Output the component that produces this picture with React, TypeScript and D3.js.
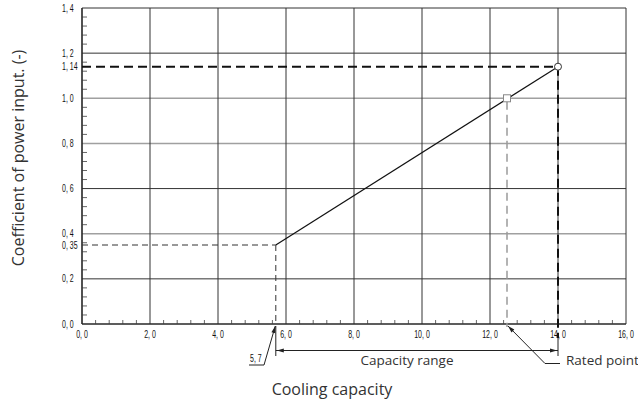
import React from "react";
import * as d3 from "d3";

const xTicks = [0, 2, 4, 6, 8, 10, 12, 14, 16];
const xTickLabels = ["0, 0", "2, 0", "4, 0", "6, 0", "8, 0", "10, 0", "12, 0", "14, 0", "16, 0"];
const yTicks = [0, 0.2, 0.4, 0.6, 0.8, 1.0, 1.2, 1.4];
const yTickLabels = ["0, 0", "0, 2", "0, 4", "0, 6", "0, 8", "1, 0", "1, 2", "1, 4"];
const greyRows = [0.4, 0.8, 1.0];
const extraYTicks = [0.35, 1.14];
const extraYLabels = ["0, 35", "1, 14"];
const lineX = [5.7, 14];
const lineY = [0.35, 1.14];
const ratedX = 12.5;
const ratedY = 1.0;
const minLabel = "5, 7";

const W = 638;
const H = 403;

export default function App() {
  const x = d3.scaleLinear().domain([0, 16]).range([82, 626]);
  const y = d3.scaleLinear().domain([0, 1.4]).range([324, 8]);
  const tickFont = "'Liberation Sans', Arial, sans-serif";
  const labelFont = "'Open Sans', 'Noto Sans', sans-serif";

  const yMinor = d3.range(0, 1.4001, 0.04).filter((v) => Math.abs(v / 0.2 - Math.round(v / 0.2)) > 1e-6);
  const xMinor = d3.range(0, 16.001, 0.4).filter((v) => Math.abs(v / 2 - Math.round(v / 2)) > 1e-6);

  const line = d3.line<number>().x((_, i) => x(lineX[i])).y((d) => y(d));

  const x0 = x(lineX[0]);
  const y0 = y(lineY[0]);
  const x1 = x(lineX[1]);
  const y1 = y(lineY[1]);
  const xr = x(ratedX);
  const yr = y(ratedY);
  const axisY = y(0);
  const rangeY = 350.5;

  const arrow = (tx: number, ty: number, fx: number, fy: number, len = 7, half = 2) => {
    const dx = tx - fx;
    const dy = ty - fy;
    const l = Math.hypot(dx, dy);
    const ux = dx / l;
    const uy = dy / l;
    const bx = tx - ux * len;
    const by = ty - uy * len;
    const px = -uy * half;
    const py = ux * half;
    return `M${tx},${ty}L${bx + px},${by + py}L${bx - px},${by - py}Z`;
  };

  const scaledText = (tx: number, ty: number, s: string, anchor: "start" | "middle" | "end", key?: string) => (
    <text
      key={key}
      transform={`translate(${tx},${ty}) scale(0.7,1)`}
      fontFamily={tickFont}
      fontSize={10}
      textAnchor={anchor}
      fill="#111"
    >
      {s}
    </text>
  );

  return (
    <svg width={W} height={H} style={{ position: "absolute", left: 0, top: 0, background: "#fff" }}>
      {/* horizontal grid */}
      {yTicks.map((v) => (
        <line
          key={"h" + v}
          x1={x(0)}
          x2={x(16)}
          y1={y(v)}
          y2={y(v)}
          stroke={greyRows.some((g) => Math.abs(g - v) < 1e-6) ? "#a0a0a0" : "#333"}
          strokeWidth={greyRows.some((g) => Math.abs(g - v) < 1e-6) ? 1.6 : 1}
        />
      ))}
      {/* vertical grid */}
      {xTicks.map((v) => (
        <line key={"v" + v} x1={x(v)} x2={x(v)} y1={y(1.4)} y2={y(0)} stroke="#333" strokeWidth={1} />
      ))}
      {/* minor ticks */}
      {yMinor.map((v) => (
        <line key={"ym" + v} x1={x(0)} x2={x(0) + 5} y1={y(v)} y2={y(v)} stroke="#666" strokeWidth={1} />
      ))}
      {xMinor.map((v) => (
        <line key={"xm" + v} x1={x(v)} x2={x(v)} y1={axisY} y2={axisY - 4} stroke="#666" strokeWidth={1} />
      ))}
      {/* axes */}
      <line x1={x(0)} x2={x(0)} y1={y(1.4)} y2={axisY} stroke="#222" strokeWidth={1.2} />
      <line x1={x(0)} x2={x(16)} y1={axisY} y2={axisY} stroke="#222" strokeWidth={1.2} />

      {/* tick labels */}
      {yTicks.map((v, i) => scaledText(62, y(v) + 3.5, yTickLabels[i], "start", "yl" + v))}
      {extraYTicks.map((v, i) => scaledText(62, y(v) + 3.5, extraYLabels[i], "start", "ye" + v))}
      {xTicks.map((v, i) => scaledText(x(v), 338, xTickLabels[i], "middle", "xl" + v))}

      {/* thin dashed at min point */}
      <line x1={x(0)} x2={x0} y1={y0} y2={y0} stroke="#333" strokeWidth={1} strokeDasharray="6,4" />
      <line x1={x0} x2={x0} y1={y0} y2={axisY} stroke="#333" strokeWidth={1} strokeDasharray="6,4" />

      {/* grey dashed at rated point */}
      <line x1={xr} x2={xr} y1={yr + 3.5} y2={axisY + 3} stroke="#9a9a9a" strokeWidth={1.5} strokeDasharray="8,5" />

      {/* thick dashed at max point */}
      <line x1={x(0)} x2={x1} y1={y1} y2={y1} stroke="#111" strokeWidth={2} strokeDasharray="9,5" />
      <line x1={x1} x2={x1} y1={y1} y2={338} stroke="#111" strokeWidth={2} strokeDasharray="9,5" />

      {/* data line */}
      <path d={line(lineY) || ""} fill="none" stroke="#111" strokeWidth={1.2} />
      <rect x={xr - 3.5} y={yr - 3.5} width={7} height={7} fill="#fff" stroke="#888" strokeWidth={1} />
      <circle cx={x1} cy={y1} r={3.5} fill="#fff" stroke="#333" strokeWidth={1} />

      {/* capacity range dimension */}
      <line x1={x0} x2={x0} y1={axisY + 2} y2={356} stroke="#222" strokeWidth={1} />
      <line x1={x1} x2={x1} y1={338} y2={356} stroke="#222" strokeWidth={1} />
      <line x1={x0} x2={x1} y1={rangeY} y2={rangeY} stroke="#222" strokeWidth={1} />
      <path d={arrow(x0 + 1, rangeY, x0 + 20, rangeY)} fill="#222" />
      <path d={arrow(x1 - 1, rangeY, x1 - 20, rangeY)} fill="#222" />
      <text x={407} y={364.5} fontFamily={labelFont} fontSize={13.5} textAnchor="middle" fill="#333">
        Capacity range
      </text>

      {/* 5,7 leader */}
      {scaledText(250, 362, minLabel, "start")}
      <line x1={249} x2={264} y1={365} y2={365} stroke="#222" strokeWidth={1} />
      <line x1={264} x2={x0 - 0.5} y1={365} y2={axisY + 2} stroke="#222" strokeWidth={1} />
      <path d={arrow(x0 - 0.5, axisY + 2, 264, 365)} fill="#222" />

      {/* rated point leader */}
      <line x1={545} x2={560} y1={363.5} y2={363.5} stroke="#222" strokeWidth={1} />
      <line x1={545} x2={xr + 1} y1={363.5} y2={axisY + 2} stroke="#222" strokeWidth={1} />
      <path d={arrow(xr + 1, axisY + 2, 545, 363.5)} fill="#222" />
      <text x={566} y={364.5} fontFamily={labelFont} fontSize={13.5} fill="#333">
        Rated point
      </text>

      {/* axis titles */}
      <text x={332} y={395} fontFamily={labelFont} fontSize={16} textAnchor="middle" fill="#333">
        Cooling capacity
      </text>
      <text
        transform={`translate(24,158) rotate(-90)`}
        fontFamily={labelFont}
        fontSize={16}
        textAnchor="middle"
        fill="#333"
      >
        Coefficient of power input. (-)
      </text>
    </svg>
  );
}
